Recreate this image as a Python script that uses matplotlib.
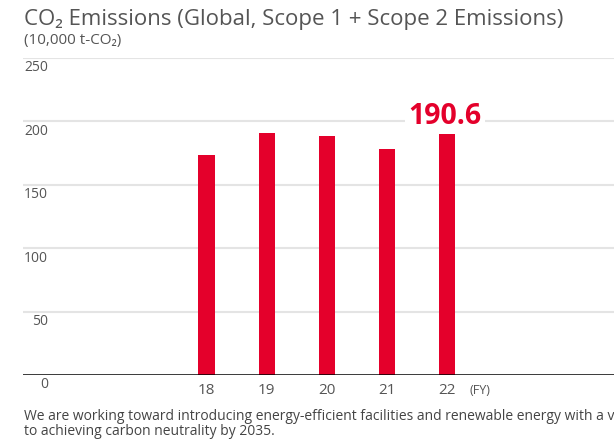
import matplotlib.pyplot as plt

# 연도별 CO2 배출량 (만 t-CO2)
years = ['18', '19', '20', '21', '22']
emissions = [173.0, 190.8, 188.6, 178.3, 190.6]
y_ticks = [0, 50, 100, 150, 200, 250]

RED = '#e4002b'
GRAY = '#555555'
W, H = 614, 442

plt.rcParams['font.family'] = ['Open Sans', 'DejaVu Sans']

fig = plt.figure(figsize=(W / 100, H / 100), dpi=100)
ax = fig.add_axes([23 / W, 1 - 375 / H, 1 - 23 / W, (375 - 57.7) / H])

xpos = [int(y) for y in years]
ax.bar(xpos, emissions, width=0.266, color=RED, zorder=3)

ax.set_xlim(14.954, 24.764)
ax.set_ylim(0, 250)

# 가로 그리드 + 0 기준선
for v in y_ticks[1:]:
    ax.axhline(v, color='#e4e4e4', lw=1.5, zorder=1)
ax.axhline(0, color='black', lw=1.8, zorder=4)
for s in ax.spines.values():
    s.set_visible(False)

# y축 숫자는 선 아래쪽에
ax.set_yticks([])
for v in y_ticks:
    ax.annotate(str(v), xy=(0, v), xycoords=('axes fraction', 'data'),
                xytext=(18, -7.2), textcoords='offset points',
                ha='right', va='center', fontsize=10, color=GRAY)

ax.set_xticks(xpos)
ax.set_xticklabels(years)
ax.tick_params(axis='x', length=0, pad=6, labelsize=11, labelcolor=GRAY)
ax.annotate('(FY)', xy=(22.36, 0), xycoords='data',
            xytext=(0, -10.8), textcoords='offset points',
            ha='left', va='center', fontsize=9, color=GRAY)

# 마지막 연도 값 표시
ax.annotate(f'{emissions[-1]}', xy=(xpos[-1], emissions[-1]),
            xytext=(-1.5, 6.5), textcoords='offset points',
            ha='center', va='baseline', fontsize=20.5, fontweight='bold',
            color=RED, zorder=5,
            bbox=dict(boxstyle='square,pad=0.12', fc='white', ec='none'))

fig.text(24 / W, 1 - 25 / H, 'CO₂ Emissions (Global, Scope 1 + Scope 2 Emissions)',
         ha='left', va='baseline', fontsize=16, color=GRAY)
fig.text(24 / W, 1 - 44 / H, '(10,000 t-CO₂)',
         ha='left', va='baseline', fontsize=11, color=GRAY)
fig.text(24 / W, 1 - 420 / H,
         'We are working toward introducing energy-efficient facilities and renewable energy with a view',
         ha='left', va='baseline', fontsize=10, color='#444444')
fig.text(24 / W, 1 - 435 / H, 'to achieving carbon neutrality by 2035.',
         ha='left', va='baseline', fontsize=10, color='#444444')

fig.savefig('out.png', dpi=100)
